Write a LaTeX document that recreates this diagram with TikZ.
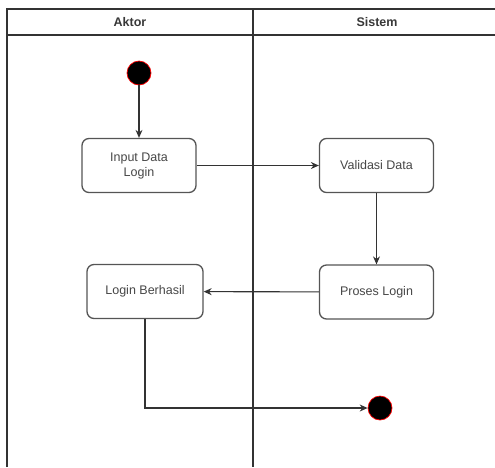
\documentclass[tikz,border=0pt]{standalone}
\usepackage{fontspec}
\setmainfont{Liberation Sans}
\usetikzlibrary{arrows.meta}
\definecolor{edge}{HTML}{333333}
\definecolor{boxline}{HTML}{555555}
\begin{document}
\begin{tikzpicture}[x=1pt,y=-1pt,
  action/.style={draw=boxline,line width=1.3pt,rounded corners=7pt,fill=white,
    minimum width=114pt,minimum height=54pt,align=center,font=\fontsize{12.5}{15}\selectfont,text=black!72},
  dot/.style={circle,fill=black,draw=red,line width=0.7pt,minimum size=24pt,inner sep=0pt},
  flow/.style={draw=edge,line width=1.1pt,-{Stealth[length=8pt,width=7pt]}},
  lane/.style={draw=edge,line width=1.4pt},
  head/.style={font=\bfseries\fontsize{12.5}{15}\selectfont,text=black!78}]
\useasboundingbox (0,0) rectangle (495,467);
% swimlane frame
\draw[lane] (7,467) -- (7,9) -- (495,9);
\draw[lane] (7,35) -- (495,35);
\draw[lane] (253,9) -- (253,467);
\node[head] (hAktor) at (130,22) {Aktor};
\node[head] (hSistem) at (377,22) {Sistem};
% activities
\node[dot] (start) at (139,73) {};
\node[action] (input) at (139,165.5) {Input Data\\Login};
\node[action] (valid) at (376.5,165.5) {Validasi Data};
\node[action] (proses) at (376.5,292) {Proses Login};
\node[action,minimum width=116pt] (berhasil) at (145,291.5) {Login Berhasil};
\node[dot] (end) at (380,408) {};
% control flow
\draw[flow] (start) -- (input);
\draw[flow] (input) -- (valid);
\draw[flow] (valid) -- (proses);
\draw[flow] (proses) -- (berhasil);
\draw[flow] (berhasil.south) |- (end);
\end{tikzpicture}
\end{document}
